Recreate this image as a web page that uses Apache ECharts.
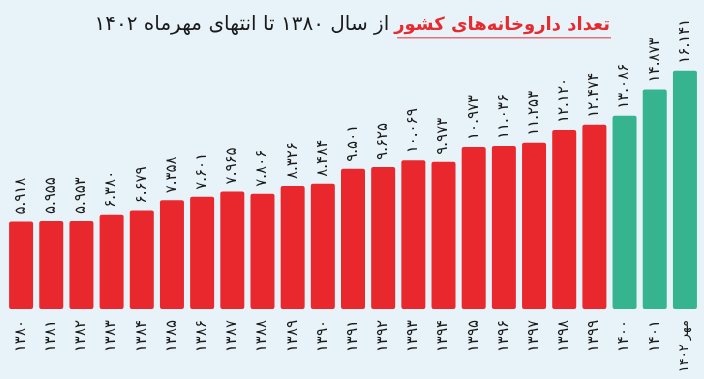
<!DOCTYPE html>
<html>
<head>
<meta charset="utf-8">
<script src="https://cdn.jsdelivr.net/npm/echarts@6/dist/echarts.min.js"></script>
<style>
html,body{margin:0;padding:0;background:#e8f3f9;}
#c{width:704px;height:379px;direction:rtl;}
</style>
</head>
<body>
<div id="c"></div>
<script>
const categories = ['۱۳۸۰','۱۳۸۱','۱۳۸۲','۱۳۸۳','۱۳۸۴','۱۳۸۵','۱۳۸۶','۱۳۸۷','۱۳۸۸','۱۳۸۹','۱۳۹۰','۱۳۹۱','۱۳۹۲','۱۳۹۳','۱۳۹۴','۱۳۹۵','۱۳۹۶','۱۳۹۷','۱۳۹۸','۱۳۹۹','۱۴۰۰','۱۴۰۱','مهر ۱۴۰۲'];
const values = [5918,5955,5953,6380,6679,7358,7601,7965,7806,8326,8484,9501,9625,10069,9973,10973,11036,11253,12120,12474,13086,14873,16141];
const redColor = '#e8282c';
const greenColor = '#36b38f';
const greenFrom = 20;

function toFa(n){
  const s = (n/1000).toFixed(3);
  const d = '۰۱۲۳۴۵۶۷۸۹';
  return s.replace(/[0-9]/g, c => d[+c]);
}

const chart = echarts.init(document.getElementById('c'), null, {renderer:'canvas'});
const font = 'DejaVu Sans';
chart.setOption({
  backgroundColor:'#e8f3f9',
  animation:false,
  title:{
    text:'{b|از سال ۱۳۸۰ تا انتهای مهرماه ۱۴۰۲} {r|تعداد داروخانه‌های کشور}',
    right:89, top:10,
    textStyle:{
      rich:{
        b:{fontFamily:font,fontSize:20,color:'#1a1a1a',fontWeight:'normal'},
        r:{fontFamily:font,fontSize:18,color:'#e62a2f',fontWeight:'bold'}
      }
    }
  },
  grid:{left:6,right:4,top:58,bottom:70,containLabel:false,outerBoundsMode:'none'},
  xAxis:{
    type:'category',
    data:categories,
    axisLine:{show:false},
    axisTick:{show:false},
    axisLabel:{
      rotate:90,margin:11,fontSize:15,fontFamily:font,color:'#1a1a1a',interval:0,
      formatter:(v,i)=> i===categories.length-1 ? '{s|'+v+'}' : v,
      rich:{s:{fontSize:13,fontFamily:font,color:'#1a1a1a'}}
    }
  },
  yAxis:{type:'value',min:0,max:17000,show:false,splitLine:{show:false}},
  series:[{
    type:'bar',
    data:values.map((v,i)=>({value:v,itemStyle:{color:i>=greenFrom?greenColor:redColor}})),
    barWidth:24,
    itemStyle:{borderRadius:2},
    label:{
      show:true,position:'top',rotate:90,align:'left',verticalAlign:'middle',distance:7,
      fontSize:15,fontFamily:font,color:'#1a1a1a',
      formatter:p=>toFa(p.value)
    }
  }],
  graphic:[{
    type:'rect',
    shape:{x:397,y:37,width:214,height:1.5},
    style:{fill:'#e8707a'}
  }]
});
</script>
</body>
</html>
